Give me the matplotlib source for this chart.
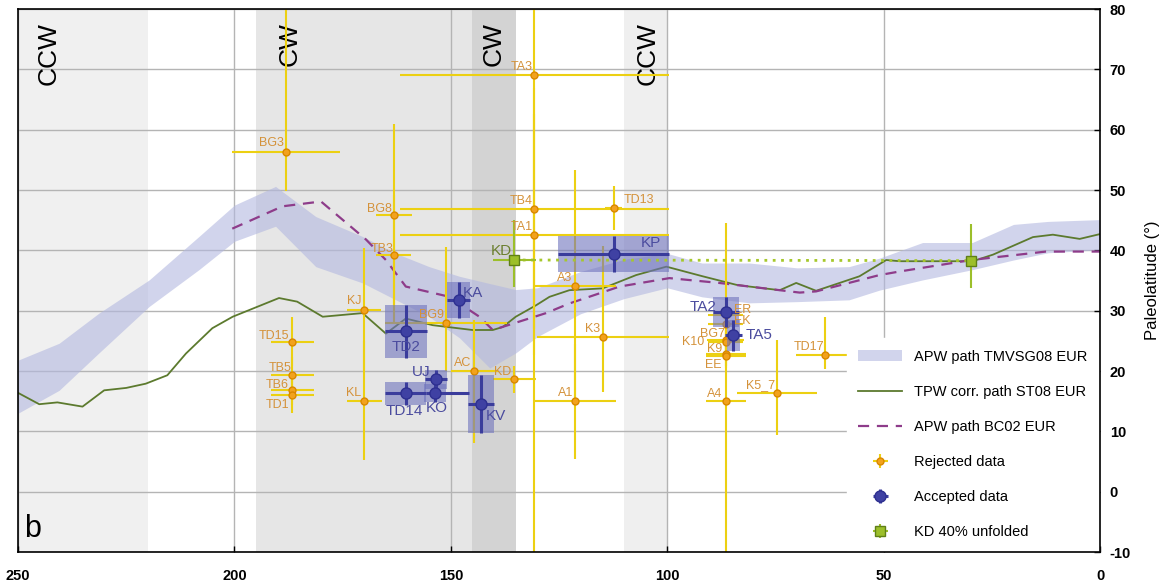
import matplotlib
matplotlib.use("Agg")
import matplotlib.pyplot as plt
from matplotlib.patches import Patch, Rectangle
from matplotlib.lines import Line2D
import numpy as np

plt.rcParams['font.family'] = ['Liberation Sans', 'DejaVu Sans']
plt.rcParams['axes.unicode_minus'] = False

# ---- data (age in Ma, paleolatitude in deg) ----
# APW path TMVSG08 EUR (envelope)
band_age = [250, 240.5, 231.3, 219.7, 208.2, 200, 190.5, 181.2, 170.4, 162.7, 155, 148,
            141, 135, 130, 120, 110, 100, 92, 81, 70, 58, 51, 41, 29.5, 20, 12, 0]
band_hi = [21.8, 24.6, 29.6, 35.1, 42.3, 47.5, 50.6, 45.6, 42.3, 39.5, 37.3, 35.7,
           34.5, 33.5, 33.8, 36.5, 38.5, 39.5, 37.9, 37.9, 37.1, 37.3, 38.7, 41.3, 41.3, 44.3, 44.8, 45.1]
band_lo = [13.0, 16.8, 23.0, 30.7, 36.8, 41.5, 44.0, 37.3, 34.6, 31.8, 29.0, 25.5,
           20.5, 23.0, 25.7, 29.5, 32.0, 33.8, 32.3, 31.3, 31.5, 31.8, 33.4, 35.1, 36.8, 38.4, 39.6, 40.1]

# TPW corr. path ST08 EUR
tpw_age = [250.3, 245.1, 240.9, 235.1, 230.1, 225, 220.5, 215.5, 211.2, 205.1, 200.4, 196.6,
           189.7, 185.5, 179.6, 170.4, 165, 160.4, 154.2, 145, 140.3, 138, 135, 130.3, 127.2,
           122.6, 114.9, 107.2, 100.2, 91.8, 84.1, 81, 74, 70.2, 65.6, 55.6, 49.4, 46.3, 29.4,
           24.7, 15.5, 10.9, 4.7, 0]
tpw_lat = [16.5, 14.5, 14.8, 14.1, 16.8, 17.2, 17.9, 19.3, 22.9, 27.1, 29.0, 30.1,
           32.1, 31.5, 29.0, 29.6, 26.2, 28.7, 27.6, 26.8, 26.8, 27.3, 29.0, 30.9, 32.3,
           33.4, 33.7, 35.9, 37.3, 35.7, 34.3, 34.0, 33.4, 34.6, 33.3, 35.7, 38.4, 38.2, 38.2,
           39.3, 42.2, 42.6, 41.9, 42.7]

# APW path BC02 EUR
bc_age = [200.5, 188.9, 180, 169.6, 165, 160.4, 150.3, 143.4, 140.3, 128, 122.6, 111,
          99.5, 88, 81, 69.4, 65.6, 51, 46.3, 29.8, 12.5, 0]
bc_lat = [43.6, 47.3, 48.1, 41.8, 38.4, 34.0, 32.3, 29.0, 26.8, 29.6, 31.2, 34.0,
          35.4, 34.6, 34.0, 33.0, 33.2, 35.9, 36.5, 38.4, 39.8, 39.8]

# rejected data
rej_names = ['BG3', 'BG8', 'TB3', 'KJ', 'KL', 'TD15', 'TB5', 'TB6', 'TD1', 'BG9', 'AC', 'KD',
             'TA3', 'TB4', 'TA1', 'TD13', 'A3', 'A1', 'K3', 'ER', 'EK', 'BG7', 'K10', 'K9',
             'EE', 'A4', 'K5_7', 'TD17']
rej_age = [188, 163.1, 163.2, 170, 170, 186.6, 186.6, 186.6, 186.6, 151.1, 144.6, 135.3,
           130.7, 130.7, 130.7, 112.4, 121.2, 121.2, 114.9, 86.5, 86.5, 86.5, 86.5, 86.5,
           86.5, 86.5, 74.7, 63.5]
rej_lat = [56.3, 45.9, 39.2, 30.1, 15.0, 24.8, 19.3, 16.8, 16.1, 28.0, 20.0, 18.6,
           69.1, 46.9, 42.6, 47.0, 34.1, 15.0, 25.7, 29.3, 27.8, 25.2, 24.8, 22.8,
           22.5, 15.0, 16.4, 22.6]
rej_age_err = [12.5, 4.2, 4, 3.9, 4, 5, 5, 5, 5, 14, 5.4, 5,
               31, 31, 31, 2, 9.3, 9.3, 15.3, 4, 4, 4.3, 4, 4.6,
               4.6, 4.6, 9.2, 6.7]
rej_lat_lo = [6.5, 15, 11, 10, 9.8, 4, 3, 2.5, 3.1, 8, 12, 2.3,
              85, 20, 20, 3.6, 19, 9.5, 9.2, 2, 2, 2, 2, 2,
              2, 29.5, 7, 2.2]
rej_lat_hi = [30, 15, 10, 10.3, 10, 4.2, 3, 2.5, 3, 12.5, 8.5, 2.3,
              20, 20, 20, 3.6, 19.3, 9.5, 15, 2, 2, 2, 2, 2,
              2, 29.5, 8.7, 6.4]

# accepted data
acc_names = ['TD2', 'KA', 'UJ', 'KO', 'TD14', 'KV', 'KP', 'TA2', 'TA5']
acc_age = [160.4, 148.2, 153.4, 153.6, 160.4, 143, 112.4, 86.5, 84.7]
acc_lat = [26.6, 31.8, 18.6, 16.4, 16.3, 14.5, 39.4, 29.8, 25.9]
acc_age_minus = [4.8, 2.7, 2.5, 7.9, 4.7, 3, 12.8, 3, 2]
acc_age_plus = [4.8, 2.7, 2.5, 2.2, 4.7, 3, 12.8, 3, 2]
acc_lat_err = [4.4, 3, 1.5, 1.5, 1.9, 4.8, 3, 2.5, 2.5]
acc_box_w = [4.8, 2.7, 2.5, 2.5, 4.7, 3, 12.8, 3, 1.5]

# KD 40% unfolded
kd_age = [135.3, 29.8]
kd_lat = [38.4, 38.3]
kd_age_err = [5, 0]
kd_lat_lo = [4.4, 4.5]
kd_lat_hi = [6.7, 6.0]

# rotation sense intervals
shade_spans = [(250, 220, '#f0f0f0'), (195, 145, '#e6e6e6'), (145, 135, '#d3d3d3'),
               (110, 100, '#efefef')]
rot_labels = ['CCW', 'CW', 'CW', 'CCW']
rot_age = [243, 187.3, 140, 104.6]

# label placement (ha, va, dx, dy in pixels)
rej_lab_pos = {
    'BG3': ('right', 'bottom', -2, 3), 'BG8': ('right', 'bottom', -2, 0),
    'TB3': ('right', 'bottom', 0, 0), 'KJ': ('right', 'bottom', -3, 3),
    'KL': ('right', 'bottom', -3, 2), 'TD15': ('right', 'bottom', -3, 0),
    'TB5': ('right', 'bottom', -1, 1), 'TB6': ('right', 'bottom', -4, -1),
    'TD1': ('right', 'top', -3, -4), 'BG9': ('right', 'bottom', -2, 2),
    'AC': ('right', 'bottom', -3, 2), 'KD': ('right', 'bottom', -3, 1),
    'TA3': ('right', 'bottom', -2, 2), 'TB4': ('right', 'bottom', -2, 2),
    'TA1': ('right', 'bottom', -2, 2), 'TD13': ('left', 'bottom', 10, 2),
    'A3': ('right', 'bottom', -3, 2), 'A1': ('right', 'bottom', -2, 2),
    'K3': ('right', 'bottom', -3, 2), 'ER': ('left', 'center', 8, 5),
    'EK': ('left', 'center', 8, 3), 'BG7': ('right', 'bottom', -1, 0),
    'K10': ('right', 'center', -21, 0), 'K9': ('right', 'bottom', -3, -1),
    'EE': ('right', 'top', -4, -3), 'A4': ('right', 'bottom', -3, 1),
    'K5_7': ('right', 'bottom', -2, 2), 'TD17': ('right', 'bottom', -1, 2),
}
acc_lab_pos = {
    'TD2': ('center', 'top', 0, -9), 'KA': ('left', 'bottom', 4, 0),
    'UJ': ('right', 'bottom', -6, 0), 'KO': ('center', 'top', 2, -8),
    'TD14': ('center', 'top', -2, -11), 'KV': ('left', 'top', 5, -5),
    'KP': ('left', 'bottom', 27, 4), 'TA2': ('right', 'center', -9, 5),
    'TA5': ('left', 'center', 12, 0),
}

fig = plt.figure(figsize=(11.7, 5.87), dpi=100)
ax = fig.add_axes([0.0154, 0.0596, 0.9248, 0.925])

for a0, a1, c in shade_spans:
    ax.axvspan(a0, a1, color=c, zorder=0, lw=0)

for i, lab in enumerate(rot_labels):
    ax.text(rot_age[i], 0.975, lab, transform=ax.get_xaxis_transform(), rotation=90,
            ha='center', va='top', fontsize=19, color='black', zorder=1)

ax.grid(True, color='#b4b4b4', lw=1, zorder=0.5)
ax.set_axisbelow(True)

ax.fill_between(band_age, band_lo, band_hi, color='#b3b8e0', alpha=0.6, lw=0, zorder=1)
ax.plot(tpw_age, tpw_lat, color='#5c7a2e', lw=1.3, zorder=2)
ax.plot(bc_age, bc_lat, color='#8e3c8a', lw=1.6, ls=(0, (5, 3.5)), zorder=2)

# rejected
rej = ax.errorbar(rej_age, rej_lat, xerr=rej_age_err, yerr=[rej_lat_lo, rej_lat_hi],
                  fmt='o', ms=5, mfc='#f2a21d', mec='#d98700', mew=1,
                  ecolor='#ecd012', elinewidth=1.5, capsize=0, zorder=3)
for i, n in enumerate(rej_names):
    ha, va, dx, dy = rej_lab_pos[n]
    ax.annotate(n, (rej_age[i], rej_lat[i]), xytext=(dx, dy), textcoords='offset pixels',
                ha=ha, va=va, fontsize=9, color='#d4923a', zorder=5)

# accepted: uncertainty boxes then points
for i in range(len(acc_names)):
    ax.add_patch(Rectangle((acc_age[i] - acc_box_w[i], acc_lat[i] - acc_lat_err[i]),
                           2 * acc_box_w[i], 2 * acc_lat_err[i],
                           facecolor='#6f73bd', alpha=0.6, lw=0, zorder=3.5))
acc = ax.errorbar(acc_age, acc_lat, xerr=[acc_age_minus, acc_age_plus], yerr=acc_lat_err,
                  fmt='o', ms=8, mfc='#3f41a3', mec='#2e3090', mew=1,
                  ecolor='#3a3c9c', elinewidth=2.2, capsize=0, zorder=4)
for i, n in enumerate(acc_names):
    ha, va, dx, dy = acc_lab_pos[n]
    ax.annotate(n, (acc_age[i], acc_lat[i]), xytext=(dx, dy), textcoords='offset pixels',
                ha=ha, va=va, fontsize=11, color='#4b4c9e', zorder=5)

# KD 40% unfolded
ax.plot(kd_age, kd_lat, ls=(0, (1, 2)), color='#a6c82c', lw=2, zorder=3.8)
kd = ax.errorbar(kd_age, kd_lat, xerr=kd_age_err, yerr=[kd_lat_lo, kd_lat_hi],
                 fmt='s', ms=7, mfc='#9cbf2a', mec='#5f7f18', mew=1,
                 ecolor='#9cbf2a', elinewidth=1.5, capsize=0, zorder=4)
ax.annotate('KD', (kd_age[0], kd_lat[0]), xytext=(-3, 2), textcoords='offset pixels',
            ha='right', va='bottom', fontsize=11, color='#6b7f2e', zorder=5)

ax.text(0.006, 0.015, 'b', transform=ax.transAxes, fontsize=22, ha='left', va='bottom')

ax.set_xlim(250, 0)
ax.set_ylim(-10, 80)
ax.set_xticks([250, 200, 150, 100, 50, 0])
ax.set_yticks(np.arange(-10, 81, 10))
ax.yaxis.tick_right()
ax.yaxis.set_label_position('right')
ax.tick_params(axis='both', direction='in', length=4, width=1, labelsize=10.5)
ax.tick_params(axis='x', pad=12)
ax.tick_params(axis='y', pad=7)
for t in ax.get_xticklabels() + ax.get_yticklabels():
    t.set_fontweight('bold')
ax.set_ylabel('Paleolatitude (°)', fontsize=12, labelpad=10)
for s in ax.spines.values():
    s.set_linewidth(1.2)
    s.set_zorder(7)

handles = [Patch(facecolor='#b3b8e0', alpha=0.6, lw=0),
           Line2D([], [], color='#5c7a2e', lw=1.3),
           Line2D([], [], color='#8e3c8a', lw=1.6, ls=(0, (5, 3.5))),
           rej, acc, kd]
labels = ['APW path TMVSG08 EUR', 'TPW corr. path ST08 EUR', 'APW path BC02 EUR',
          'Rejected data', 'Accepted data', 'KD 40% unfolded']
leg = ax.legend(handles, labels, loc='lower right', bbox_to_anchor=(0.999, 0.002),
                borderaxespad=0, fontsize=10.5, frameon=True, fancybox=False,
                framealpha=1, edgecolor='white', labelspacing=1.45, handlelength=3.0,
                handletextpad=0.8, borderpad=0.8)
leg.set_zorder(6)

fig.savefig('out.png', dpi=100)
